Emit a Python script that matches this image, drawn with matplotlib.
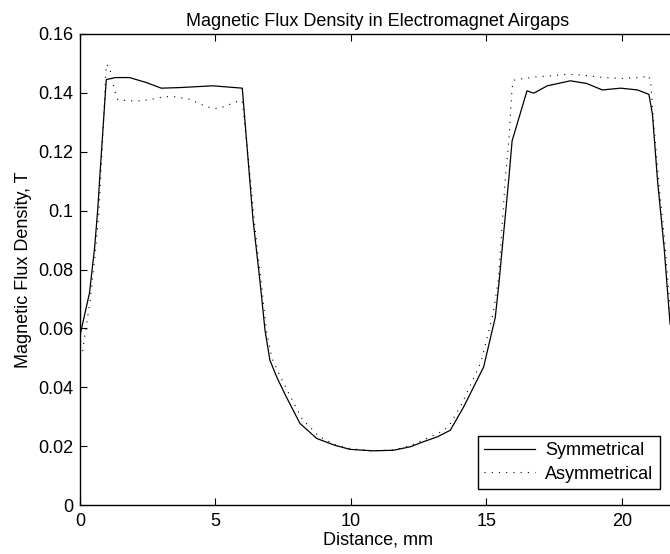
import numpy as np
import matplotlib.pyplot as plt

plt.rcParams['font.family'] = ['Liberation Sans', 'DejaVu Sans']

# symmetrical airgaps (solid line)
sym_x = [0.0, 0.35, 0.54, 0.66, 0.72, 0.97, 1.3, 1.83, 2.45, 3.0, 3.68, 4.9, 5.99,
         6.27, 6.39, 6.64, 6.83, 7.01, 7.26, 7.6, 8.12, 8.74, 9.4, 9.97, 10.8, 11.57,
         12.2, 12.68, 13.2, 13.67, 14.16, 14.9, 15.33, 15.46, 15.83, 15.95, 16.5,
         16.75, 17.25, 18.1, 18.7, 19.28, 19.96, 20.58, 21.0, 21.13, 21.32, 21.56,
         21.78, 22.0]
sym_y = [0.0576, 0.072, 0.0875, 0.101, 0.110, 0.1445, 0.1452, 0.1452, 0.1435, 0.1416,
         0.1418, 0.1424, 0.1416, 0.110, 0.0966, 0.0763, 0.0593, 0.0492, 0.0435, 0.037,
         0.0277, 0.0226, 0.0203, 0.0189, 0.0184, 0.0186, 0.0198, 0.0215, 0.0232,
         0.0254, 0.0333, 0.0469, 0.0638, 0.075, 0.111, 0.1237, 0.1407, 0.1399, 0.1424,
         0.1441, 0.1432, 0.141, 0.1416, 0.141, 0.1395, 0.1328, 0.110, 0.0876, 0.0616,
         0.055]

# asymmetrical airgaps (dotted line)
asym_x = [0.0, 0.1, 0.38, 0.57, 0.7, 0.8, 0.97, 1.09, 1.15, 1.28, 1.4, 1.89, 2.26,
          2.57, 3.13, 3.5, 4.05, 4.6, 4.91, 5.16, 5.47, 5.78, 5.99, 6.3, 6.43, 6.68,
          6.88, 7.08, 7.35, 7.7, 8.2, 8.8, 9.4, 10.0, 10.8, 11.6, 12.2, 12.7, 13.2,
          13.6, 14.1, 14.8, 15.25, 15.45, 15.7, 15.83, 15.95, 16.01, 16.32, 16.81,
          17.99, 18.48, 19.34, 19.96, 20.7, 21.0, 21.07, 21.13, 21.35, 21.6, 21.82, 22.0]
asym_y = [0.050, 0.0525, 0.070, 0.086, 0.100, 0.118, 0.1497, 0.1488, 0.1463, 0.1407,
          0.1376, 0.1373, 0.1373, 0.1377, 0.1387, 0.1387, 0.1378, 0.1356, 0.1347,
          0.1348, 0.1359, 0.137, 0.1373, 0.110, 0.0966, 0.0763, 0.0593, 0.0500,
          0.0445, 0.038, 0.0292, 0.0235, 0.0205, 0.0191, 0.0184, 0.0187, 0.0202,
          0.0222, 0.0242, 0.0265, 0.0345, 0.0485, 0.0650, 0.077, 0.111, 0.1237,
          0.1418, 0.1443, 0.1448, 0.1454, 0.1463, 0.1461, 0.1452, 0.1449, 0.1452,
          0.1458, 0.143, 0.135, 0.111, 0.088, 0.062, 0.052]

fs = 13

fig = plt.figure(figsize=(6.7, 5.54), dpi=100)
ax = fig.add_axes([80 / 670, 49 / 554, 596 / 670, 471 / 554])

ax.plot(sym_x, sym_y, color='black', lw=0.9, label='Symmetrical')
ax.plot(asym_x, asym_y, color='black', lw=0.8, linestyle=(0, (1, 5.5)),
        label='Asymmetrical')

ax.set_xlim(0, 22)
ax.set_ylim(0, 0.16)
ax.set_xticks([0, 5, 10, 15, 20])
ax.set_yticks(np.arange(0, 0.161, 0.02))
ax.set_yticklabels(['0', '0.02', '0.04', '0.06', '0.08', '0.1', '0.12', '0.14', '0.16'])
ax.tick_params(direction='in', length=5, width=0.8, top=True, right=False,
               labelsize=fs)
ax.tick_params(axis='x', pad=6)
ax.tick_params(axis='y', pad=5)
for s in ax.spines.values():
    s.set_linewidth(1.0)

ax.set_title('Magnetic Flux Density in Electromagnet Airgaps', fontsize=fs, pad=6)
ax.set_xlabel('Distance, mm', fontsize=fs, labelpad=1)
ax.set_ylabel('Magnetic Flux Density, T', fontsize=fs, labelpad=4)

leg = ax.legend(loc='lower right', bbox_to_anchor=(0.973, 0.034), borderaxespad=0,
                fontsize=fs, fancybox=False, framealpha=1, edgecolor='black',
                handlelength=2.8, handletextpad=0.6, labelspacing=0.35,
                borderpad=0.35)
leg.get_frame().set_linewidth(1.0)

plt.savefig('out.png', dpi=100)
